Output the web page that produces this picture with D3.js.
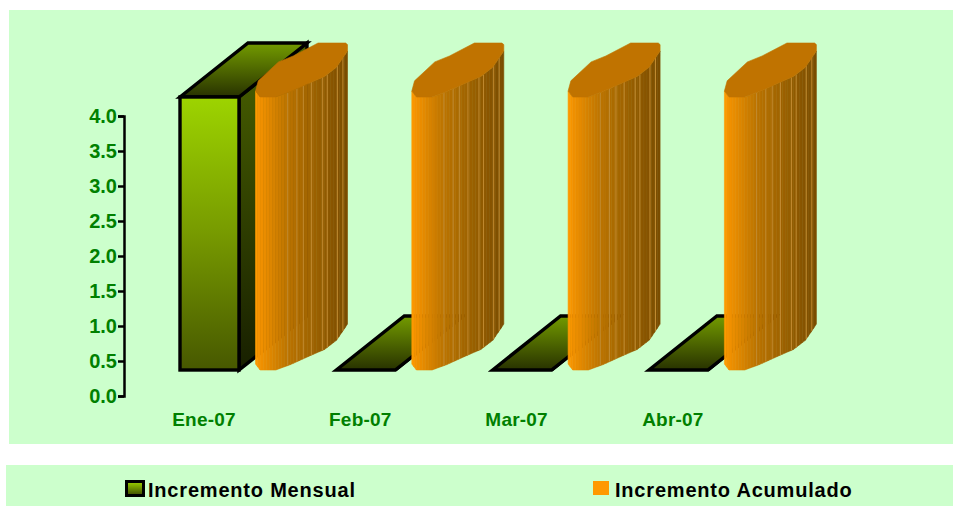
<!DOCTYPE html>
<html>
<head>
<meta charset="utf-8">
<script src="https://cdn.jsdelivr.net/npm/d3@7"></script>
<style>
  html, body { margin: 0; padding: 0; background: #fff; }
  svg { display: block; font-family: "Liberation Sans", Arial, sans-serif; font-weight: bold; }
</style>
</head>
<body>
<div id="chart"></div>
<script>
// Incremento mensual vs acumulado, Ene-07 to Abr-07 (3D look)

const categories = ["Ene-07", "Feb-07", "Mar-07", "Abr-07"];
const incrementoMensual = [3.9, 0, 0, 0];
const incrementoAcumulado = [3.9, 3.9, 3.9, 3.9];
const yTicks = [0, 0.5, 1, 1.5, 2, 2.5, 3, 3.5, 4];
const legendLabels = ["Incremento Mensual", "Incremento Acumulado"];

const w = 953, h = 506;
const svg = d3.select("#chart").append("svg").attr("width", w).attr("height", h);

// Panels
svg.append("rect").attr("x", 9).attr("y", 10).attr("width", w - 9).attr("height", 434).attr("fill", "#CCFFCC");
svg.append("rect").attr("x", 6).attr("y", 465).attr("width", w - 6).attr("height", 41).attr("fill", "#CCFFCC");

// Gradients
const defs = svg.append("defs");
function addGradient(id, stops, horizontal) {
  const g = defs.append("linearGradient").attr("id", id)
    .attr("x1", 0).attr("y1", 0)
    .attr("x2", horizontal ? 1 : 0).attr("y2", horizontal ? 0 : 1);
  stops.forEach(s => g.append("stop").attr("offset", s[0]).attr("stop-color", s[1]));
}
addGradient("frontFill", [[0, "#9DD400"], [0.5, "#779A00"], [1, "#475800"]]);
addGradient("sideFill", [[0, "#4A6200"], [1, "#182000"]]);
addGradient("topFill", [[0, "#739B00"], [1, "#283200"]]);
addGradient("legendFill", [[0, "#9DD400"], [1, "#3A4800"]]);

// Scales
const y = d3.scaleLinear().domain([0, 4]).range([396, 116]);
const x = d3.scaleBand().domain(categories).range([180, 805.2]);
const barW = 59, orangeOffset = 75.5;
const depthX = 68, depthY = 54, floorLift = 26; // 3D shear of the bars
const orangeW = 92;

// Axis
const yAxis = svg.append("g")
  .attr("transform", "translate(124 0)")
  .call(d3.axisLeft(y).tickValues(yTicks).tickFormat(d3.format(".1f")).tickSize(6).tickPadding(1));
yAxis.selectAll("path, line").attr("stroke", "#000").attr("stroke-width", 2.5);
yAxis.selectAll("text").attr("fill", "#008000").style("font-size", "20px").style("font-weight", "bold")
  .style("font-family", '"Liberation Sans", Arial, sans-serif');

// Outline of the rounded orange column seen from above, as fractions of its footprint
const frontChain = [[0, .11], [.05, 0], [.22, 0], [.38, .1], [.6, .27], [.75, .38], [.88, .55], [1, .85]];
const backChain = [[1, .97], [.98, 1], [.68, 1], [.41, .76], [.25, .65], [.03, .30]];
const section = frontChain.concat(backChain);
const ridges = [.35, .45, .52, .61, .73, .78, .89, .95]; // lighter seams on the column

const orangeColor = d3.scaleLinear()
  .domain([0, .04, .35, .6, 1])
  .range(["#FF9C00", "#F59300", "#BC7400", "#A06400", "#7A4C00"]);

function chainAt(fx) {
  const i = d3.bisector(p => p[0]).left(frontChain, fx);
  const a = frontChain[Math.max(0, i - 1)], b = frontChain[i];
  return [fx, a[1] + (b[1] - a[1]) * (fx - a[0]) / (b[0] - a[0])];
}

function drawMensual(cat, value) {
  const x0 = x(cat), yBase = y(0) - floorLift, yTop = y(value) - floorLift;
  const g = svg.append("g").attr("stroke", "#000").attr("stroke-width", 3.4).attr("stroke-linejoin", "miter");
  const x1 = x0 + barW;
  g.append("polygon").attr("fill", "url(#sideFill)")
    .attr("points", [[x1, yTop], [x1 + depthX, yTop - depthY], [x1 + depthX, yBase - depthY], [x1, yBase]].join(" "));
  g.append("polygon").attr("fill", "url(#topFill)")
    .attr("points", [[x0, yTop], [x0 + depthX, yTop - depthY], [x1 + depthX, yTop - depthY], [x1, yTop]].join(" "));
  g.append("rect").attr("x", x0).attr("y", yTop).attr("width", barW).attr("height", yBase - yTop)
    .attr("fill", "url(#frontFill)");
}

function drawAcumulado(cat, value) {
  const x0 = x(cat) + orangeOffset, yBase = y(0) - floorLift, yTop = y(value) - floorLift;
  const g = svg.append("g");
  const px = p => x0 + p[0] * orangeW;
  const py = (p, yy) => yy - p[1] * depthY;

  // Facets along the front of the column
  const pts = [];
  d3.pairs(frontChain).forEach(([a, b]) => {
    const n = Math.max(2, Math.round((b[0] - a[0]) * 30));
    d3.range(n).forEach(i => pts.push([a[0] + (b[0] - a[0]) * i / n, a[1] + (b[1] - a[1]) * i / n]));
  });
  pts.push(frontChain[frontChain.length - 1]);

  d3.pairs(pts).forEach(([a, b]) => {
    const c = orangeColor((a[0] + b[0]) / 2);
    g.append("polygon").attr("fill", c).attr("stroke", c).attr("stroke-width", 0.6)
      .attr("points", [[px(a), py(a, yTop)], [px(b), py(b, yTop)], [px(b), py(b, yBase)], [px(a), py(a, yBase)]].join(" "));
  });

  ridges.forEach(fx => {
    const p = chainAt(fx);
    g.append("line").attr("x1", px(p)).attr("x2", px(p)).attr("y1", py(p, yTop)).attr("y2", py(p, yBase))
      .attr("stroke", "#C08A30").attr("stroke-width", 1);
  });

  // Top cap
  g.append("polygon").attr("fill", "#C07300").attr("stroke", "#C07300").attr("stroke-width", 0.6)
    .attr("points", section.map(p => [px(p), py(p, yTop)]).join(" "));
}

categories.forEach((cat, i) => {
  drawMensual(cat, incrementoMensual[i]);
  drawAcumulado(cat, incrementoAcumulado[i]);
});

// Category labels
svg.selectAll("text.cat").data(categories).enter().append("text")
  .attr("class", "cat")
  .attr("x", d => x(d) + 24)
  .attr("y", 426)
  .attr("text-anchor", "middle")
  .attr("fill", "#008000")
  .style("font-size", "19px")
  .style("letter-spacing", "0.2px")
  .text(d => d);

// Legend
svg.append("rect").attr("x", 126.5).attr("y", 481.5).attr("width", 17).attr("height", 14)
  .attr("fill", "url(#legendFill)").attr("stroke", "#000").attr("stroke-width", 3);
svg.append("rect").attr("x", 593).attr("y", 481).attr("width", 16).attr("height", 14).attr("fill", "#FF9900");
svg.selectAll("text.leg").data(legendLabels).enter().append("text")
  .attr("class", "leg")
  .attr("x", (d, i) => i === 0 ? 148 : 615)
  .attr("y", 497)
  .attr("fill", "#000")
  .style("font-size", "20px")
  .style("letter-spacing", "0.8px")
  .text(d => d);
</script>
</body>
</html>
